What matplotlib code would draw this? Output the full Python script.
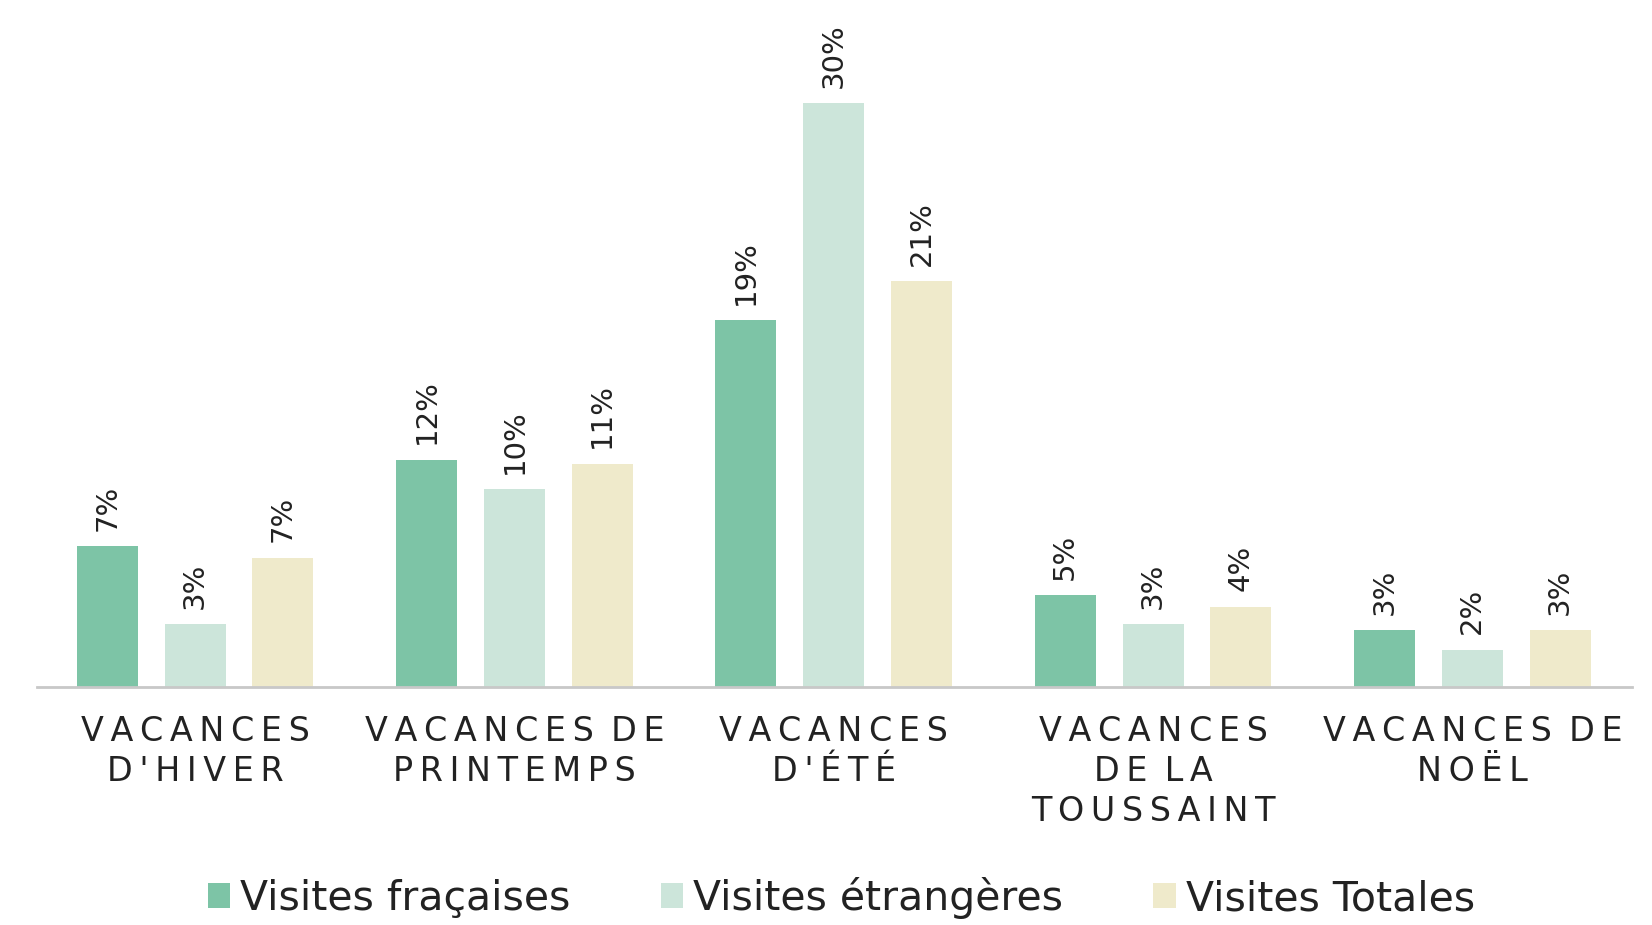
import matplotlib.pyplot as plt
import numpy as np
from matplotlib.patches import Patch

# donnees (en %)
categories = ["VACANCES\nD'HIVER", "VACANCES DE\nPRINTEMPS", "VACANCES\nD'ÉTÉ",
              "VACANCES\nDE LA\nTOUSSAINT", "VACANCES DE\nNOËL"]
series = ["Visites fraçaises", "Visites étrangères", "Visites Totales"]
francaises = [7.2, 11.6, 18.7, 4.7, 2.9]
etrangeres = [3.2, 10.1, 29.8, 3.2, 1.9]
totales = [6.6, 11.4, 20.7, 4.1, 2.9]

couleurs = ["#7DC4A6", "#CCE5DA", "#EFEACB"]
texte = "#222222"


def espacer(label):
    # imite l'espacement des lettres du graphique original
    lignes = []
    for ligne in label.split("\n"):
        mots = ["\u2009".join(m) for m in ligne.split(" ")]
        lignes.append("\u2009 ".join(mots))
    return "\n".join(lignes)


fig = plt.figure(figsize=(16.52, 9.25), dpi=100)
ax = fig.add_axes([0.0224, 0.2573, 0.9655, 0.7427])

x = np.arange(len(categories))
largeur = 0.191
pas = 0.275

for i, valeurs in enumerate([francaises, etrangeres, totales]):
    barres = ax.bar(x + (i - 1) * pas, valeurs, largeur, color=couleurs[i], zorder=2)
    for b, v in zip(barres, valeurs):
        ax.annotate(f"{v:.0f}%", (b.get_x() + b.get_width() / 2, v),
                    xytext=(0, 11), textcoords="offset points",
                    rotation=90, ha="center", va="bottom",
                    fontsize=21, color=texte)

ax.set_xlim(-0.495, 4.5)
ax.set_ylim(0, 35.05)
ax.set_yticks([])
ax.set_xticks(x)
ax.set_xticklabels([espacer(c) for c in categories], fontsize=24, color=texte,
                   multialignment="center", linespacing=1.27)
ax.tick_params(axis="x", length=0, pad=20)

for s in ["top", "left", "right"]:
    ax.spines[s].set_visible(False)
ax.spines["bottom"].set_color("#c8c8c8")
ax.spines["bottom"].set_linewidth(2)

poignees = [Patch(facecolor=c, edgecolor="none") for c in couleurs]
fig.legend(poignees, series, loc="center", bbox_to_anchor=(0.5094, 0.029),
           ncol=3, frameon=False, fontsize=29.5, labelcolor=texte,
           handlelength=0.54, handleheight=0.54, handletextpad=0.25,
           columnspacing=2.2, borderpad=0)

fig.savefig("out.png", dpi=100)
